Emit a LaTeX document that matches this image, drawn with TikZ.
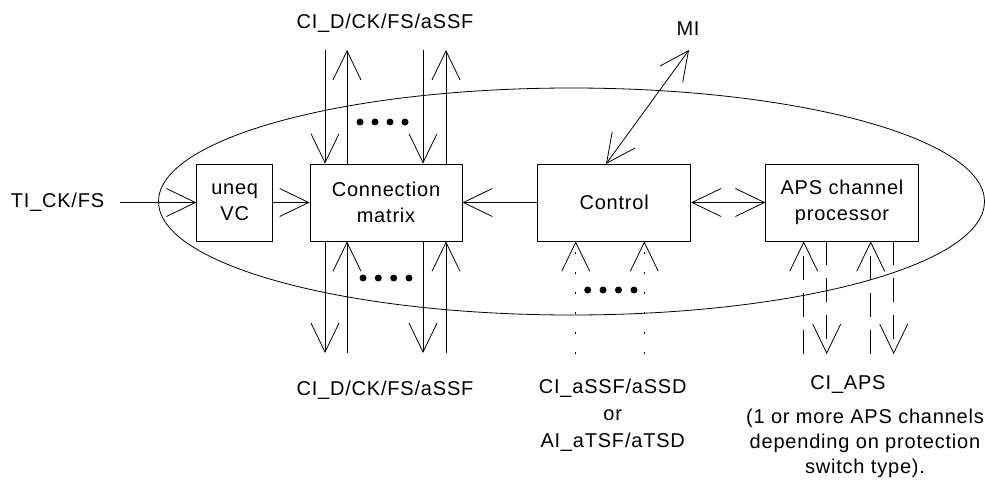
\documentclass[tikz,border=0pt]{standalone}
\usepackage{fontspec}
\setmainfont{Liberation Sans}[LetterSpace=4]
\usetikzlibrary{arrows.meta}

\begin{document}
\begin{tikzpicture}[
    x=1pt, y=-1pt,
    line width=0.8pt,
    blocco/.style={draw, minimum height=77pt, align=center, inner sep=0pt, font=\fontsize{20}{26}\selectfont},
    freccia/.style={-{Straight Barb[length=29pt,width=28pt]}},
    doppia/.style={{Straight Barb[length=29pt,width=28pt]}-{Straight Barb[length=29pt,width=28pt]}},
    tratteggio/.style={dash pattern=on 24pt off 13pt},
    puntinato/.style={dash pattern=on 2pt off 18pt},
    punto/.style={circle, fill=black, inner sep=0pt, minimum size=7pt},
    etichetta/.style={align=center, inner sep=0pt, font=\fontsize{20}{25}\selectfont}
]

    \useasboundingbox (0,0) rectangle (985,484);

    % 1. Contorno (ellisse)
    \draw (571.5,201.5) ellipse [x radius=413, y radius=113.5];

    % 2. Blocchi
    \node[blocco, minimum width=76pt] (UV) at (234.7,202.5) {uneq\\VC};
    \node[blocco, minimum width=152pt] (CM) at (386,202.5) {Connection\\matrix};
    \node[blocco, minimum width=153pt] (CT) at (614.2,202.5) {Control};
    \node[blocco, minimum width=152.6pt] (AP) at (842,202.5) {APS channel\\processor};

    % 3. Etichette
    \node[etichetta] (TI) at (57.5,202.5) {TI\_CK/FS};
    \node[etichetta] (MI) at (688,29) {MI};
    \node[etichetta] (CIsu) at (385,23) {CI\_D/CK/FS/aSSF};
    \node[etichetta] (CIgiu) at (385,390) {CI\_D/CK/FS/aSSF};
    \node[etichetta, font=\fontsize{20}{27}\selectfont] (CIct) at (612.7,415) {CI\_aSSF/aSSD\\or\\AI\_aTSF/aTSD};
    \node[etichetta] (CIaps) at (848,385) {CI\_APS};
    \node[etichetta] (nota) at (865,443) {(1 or more APS channels\\depending on protection\\switch type).};

    % 4. Frecce orizzontali
    \coordinate (TIa) at (120,202.5);
    \draw[freccia] (TIa) -- (UV.west);
    \draw[freccia] (UV.east) -- (CM.west);
    \draw[freccia] (CT.west) -- (CM.east);
    \draw[doppia] (CT.east) -- (AP.west);

    % MI
    \coordinate (MIa) at (689,50);
    \coordinate (CTa) at (606,164);
    \draw[doppia] (CTa) -- (MIa);

    % 5. Frecce sopra la matrice
    \coordinate (A1) at (325,50);
    \coordinate (A2) at (347,50);
    \coordinate (A3) at (423,50);
    \coordinate (A4) at (446,50);
    \draw[freccia] (A1) -- (A1 |- CM.north);
    \draw[freccia] (A2 |- CM.north) -- (A2);
    \draw[freccia] (A3) -- (A3 |- CM.north);
    \draw[freccia] (A4 |- CM.north) -- (A4);

    % Frecce sotto la matrice
    \coordinate (B1) at (325,353);
    \coordinate (B2) at (347,353);
    \coordinate (B3) at (423,353);
    \coordinate (B4) at (446,353);
    \draw[freccia] (B1 |- CM.south) -- (B1);
    \draw[freccia] (B2) -- (B2 |- CM.south);
    \draw[freccia] (B3 |- CM.south) -- (B3);
    \draw[freccia] (B4) -- (B4 |- CM.south);

    % 6. Ingressi del controllo
    \coordinate (C1) at (575.7,354);
    \coordinate (C2) at (644.3,354);
    \draw[freccia, puntinato] (C1) -- (C1 |- CT.south);
    \draw[freccia, puntinato] (C2) -- (C2 |- CT.south);

    % 7. Canali APS
    \coordinate (D1) at (803.7,354);
    \coordinate (D2) at (826.7,354);
    \coordinate (D3) at (870.7,354);
    \coordinate (D4) at (893.7,354);
    \draw[freccia, tratteggio] (D1) -- (D1 |- AP.south);
    \draw[freccia, tratteggio] (D2 |- AP.south) -- (D2);
    \draw[freccia, tratteggio] (D3) -- (D3 |- AP.south);
    \draw[freccia, tratteggio] (D4 |- AP.south) -- (D4);

    % 8. Puntini
    \node[punto] (P1) at (360,122) {};
    \node[punto] (P2) at (375,122) {};
    \node[punto] (P3) at (390,122) {};
    \node[punto] (P4) at (405,122) {};

    \node[punto] (P5) at (363,278) {};
    \node[punto] (P6) at (378.3,278) {};
    \node[punto] (P7) at (393.7,278) {};
    \node[punto] (P8) at (409,278) {};

    \node[punto] (P9) at (587.7,290) {};
    \node[punto] (P10) at (603,290) {};
    \node[punto] (P11) at (618.5,290) {};
    \node[punto] (P12) at (634,290) {};

\end{tikzpicture}
\end{document}
